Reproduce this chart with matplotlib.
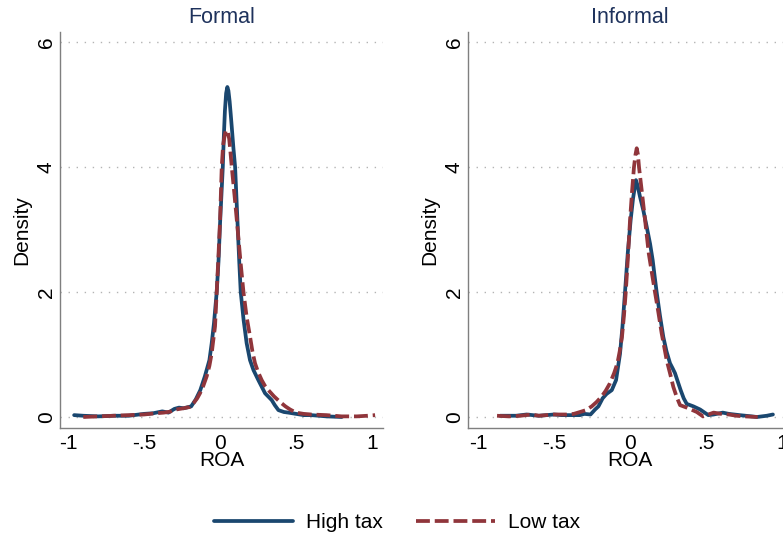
import matplotlib
matplotlib.use("Agg")
import matplotlib.pyplot as plt

plt.rcParams["font.family"] = ["Liberation Sans", "DejaVu Sans"]

# ROA kernel densities
formal_high_x = [-0.96, -0.9, -0.8, -0.7, -0.6, -0.5, -0.44, -0.38, -0.34, -0.3,
                 -0.27, -0.24, -0.19, -0.16, -0.13, -0.1, -0.07, -0.055, -0.04, -0.022,
                 -0.01, 0.0, 0.009, 0.018, 0.025, 0.032, 0.04, 0.048, 0.055, 0.063,
                 0.07, 0.077, 0.088, 0.099, 0.108, 0.116, 0.126, 0.136, 0.155, 0.175,
                 0.197, 0.22, 0.252, 0.296, 0.34, 0.36, 0.384, 0.42, 0.45, 0.5,
                 0.55, 0.6, 0.7, 0.8]
formal_high_y = [0.03, 0.02, 0.01, 0.02, 0.02, 0.05, 0.06, 0.09, 0.07, 0.13,
                 0.15, 0.14, 0.17, 0.28, 0.43, 0.65, 0.91, 1.18, 1.5, 2.0,
                 2.5, 3.1, 3.55, 4.0, 4.5, 4.9, 5.18, 5.28, 5.22, 5.05,
                 4.85, 4.64, 4.3, 4.0, 3.5, 3.05, 2.5, 2.0, 1.55, 1.18,
                 0.91, 0.75, 0.59, 0.38, 0.27, 0.19, 0.11, 0.08, 0.07, 0.05,
                 0.03, 0.03, 0.01, 0.0]

formal_low_x = [-0.9, -0.8, -0.7, -0.6, -0.5, -0.42, -0.37, -0.33, -0.29, -0.24,
                -0.2, -0.175, -0.15, -0.132, -0.11, -0.088, -0.07, -0.055, -0.045, -0.033,
                -0.022, -0.011, 0.0, 0.011, 0.02, 0.03, 0.037, 0.044, 0.052, 0.06,
                0.068, 0.077, 0.095, 0.114, 0.134, 0.154, 0.175, 0.197, 0.213, 0.23,
                0.25, 0.274, 0.295, 0.318, 0.355, 0.395, 0.43, 0.461, 0.5, 0.55,
                0.6, 0.7, 0.8, 0.9, 0.97, 1.02]
formal_low_y = [0.0, 0.01, 0.02, 0.03, 0.04, 0.06, 0.07, 0.085, 0.12, 0.14,
                0.16, 0.22, 0.3, 0.38, 0.5, 0.65, 0.82, 1.02, 1.22, 1.45,
                2.0, 2.55, 3.15, 4.0, 4.35, 4.5, 4.57, 4.59, 4.55, 4.45,
                4.25, 4.0, 3.55, 3.05, 2.5, 2.0, 1.6, 1.29, 1.05, 0.86,
                0.72, 0.59, 0.5, 0.43, 0.33, 0.24, 0.17, 0.12, 0.07, 0.05,
                0.04, 0.03, 0.01, 0.01, 0.02, 0.03]

informal_high_x = [-0.855, -0.75, -0.68, -0.6, -0.5, -0.45, -0.4, -0.33, -0.3, -0.26,
                   -0.23, -0.208, -0.18, -0.154, -0.12, -0.092, -0.066, -0.05, -0.033, -0.015,
                   0.004, 0.02, 0.039, 0.05, 0.066, 0.088, 0.11, 0.132, 0.149, 0.162,
                   0.175, 0.197, 0.219, 0.24, 0.263, 0.28, 0.296, 0.315, 0.333, 0.353,
                   0.373, 0.417, 0.461, 0.515, 0.55, 0.61, 0.65, 0.72, 0.8, 0.835,
                   0.9, 0.94]
informal_high_y = [0.02, 0.02, 0.04, 0.02, 0.04, 0.03, 0.03, 0.03, 0.05, 0.04,
                   0.12, 0.17, 0.3, 0.37, 0.43, 0.59, 1.01, 1.44, 2.0, 2.62,
                   3.15, 3.5, 3.79, 3.7, 3.52, 3.3, 3.04, 2.77, 2.51, 2.25,
                   2.0, 1.62, 1.28, 1.05, 0.86, 0.78, 0.7, 0.56, 0.43, 0.3,
                   0.21, 0.17, 0.12, 0.03, 0.04, 0.07, 0.05, 0.03, 0.01, 0.0,
                   0.02, 0.04]

informal_low_x = [-0.875, -0.8, -0.72, -0.65, -0.6, -0.55, -0.5, -0.45, -0.417, -0.37,
                  -0.329, -0.29, -0.252, -0.22, -0.186, -0.16, -0.132, -0.105, -0.083, -0.068,
                  -0.053, -0.04, -0.028, -0.014, 0.0, 0.013, 0.026, 0.036, 0.044, 0.052,
                  0.059, 0.078, 0.099, 0.123, 0.144, 0.164, 0.186, 0.208, 0.225, 0.241,
                  0.263, 0.285, 0.307, 0.329, 0.373, 0.439, 0.48, 0.55, 0.6, 0.65,
                  0.7, 0.75, 0.84]
informal_low_y = [0.02, 0.01, 0.02, 0.04, 0.02, 0.03, 0.04, 0.04, 0.04, 0.05,
                  0.08, 0.11, 0.17, 0.24, 0.33, 0.42, 0.54, 0.7, 0.86, 1.05,
                  1.28, 1.62, 2.0, 2.55, 3.15, 3.6, 4.0, 4.2, 4.3, 4.2,
                  4.0, 3.6, 3.15, 2.62, 2.3, 2.0, 1.68, 1.34, 1.12, 0.91,
                  0.7, 0.48, 0.32, 0.19, 0.15, 0.08, 0.01, 0.07, 0.05, 0.04,
                  0.02, 0.01, 0.0]

panels = ["Formal", "Informal"]
x_ticks = [-1, -0.5, 0, 0.5, 1]
x_tick_labels = ["-1", "-.5", "0", ".5", "1"]
y_ticks = [0, 2, 4, 6]
y_tick_labels = ["0", "2", "4", "6"]

navy = "#1a476f"
maroon = "#90353b"
title_color = "#1e325c"
fs = 15

W, H = 783, 541
fig = plt.figure(figsize=(W / 100, H / 100), dpi=100)
ax1 = fig.add_axes([60 / W, 113 / H, 323 / W, 396 / H])
ax2 = fig.add_axes([468 / W, 113 / H, 323 / W, 396 / H])

series = [
    (formal_high_x, formal_high_y, formal_low_x, formal_low_y),
    (informal_high_x, informal_high_y, informal_low_x, informal_low_y),
]
xlims = [(-1.053, 1.072), (-1.066, 1.059)]

for ax, name, (hx, hy, lx, ly), xl in zip([ax1, ax2], panels, series, xlims):
    ax.plot(hx, hy, color=navy, lw=2.7, solid_capstyle="round",
            solid_joinstyle="round", label="High tax", zorder=3)
    ax.plot(lx, ly, color=maroon, lw=2.7, linestyle=(0, (3.7, 1.3)),
            dash_capstyle="butt", label="Low tax", zorder=4)

    ax.set_xlim(*xl)
    ax.set_ylim(-0.176, 6.16)
    ax.set_xticks(x_ticks)
    ax.set_xticklabels(x_tick_labels)
    ax.set_yticks(y_ticks)
    ax.set_yticklabels(y_tick_labels, rotation=90, va="center")
    ax.tick_params(axis="both", length=0, labelsize=fs)
    ax.tick_params(axis="x", pad=4)
    ax.tick_params(axis="y", pad=3)

    ax.yaxis.grid(True, linestyle=(0, (1, 4.8)), color="#b4b4b4", lw=1.0)
    ax.set_axisbelow(True)

    for side in ["top", "right"]:
        ax.spines[side].set_visible(False)
    for side in ["left", "bottom"]:
        ax.spines[side].set_color("#7f7f7f")
        ax.spines[side].set_linewidth(1.0)

    ax.set_title(name, fontsize=15.5, color=title_color, pad=6.5)
    ax.set_xlabel("ROA", fontsize=fs, labelpad=-1)
    ax.set_ylabel("Density", fontsize=fs, labelpad=4)

handles, labels = ax1.get_legend_handles_labels()
fig.legend(handles, labels, loc="center", bbox_to_anchor=(397 / W, 1 - 523 / H),
           ncol=2, frameon=False, fontsize=fs, handlelength=3.8,
           handletextpad=0.6, columnspacing=1.6)

fig.savefig("out.png", dpi=100, facecolor="white")
